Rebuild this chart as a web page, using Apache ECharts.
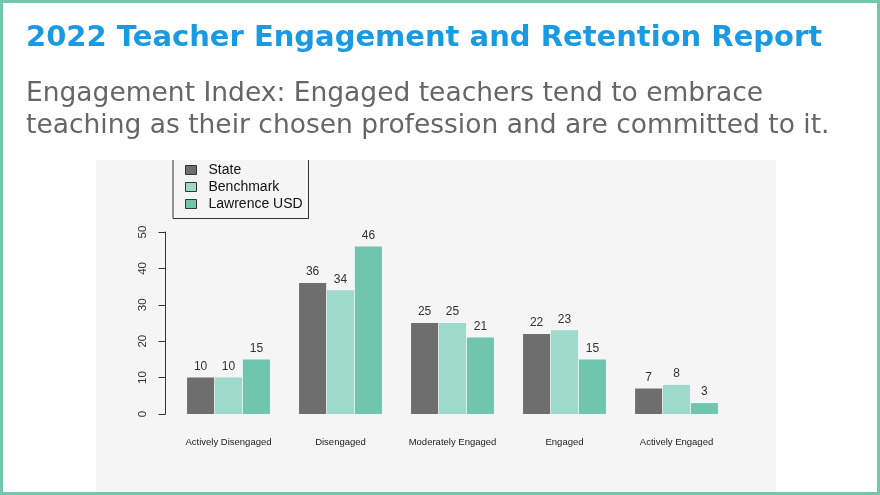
<!DOCTYPE html>
<html>
<head>
<meta charset="utf-8">
<script src="https://cdn.jsdelivr.net/npm/echarts@6/dist/echarts.min.js"></script>
<style>
  html, body { margin: 0; padding: 0; background: #fff; }
  #chart-box { width: 880px; height: 495px; }
</style>
</head>
<body>
<div id="chart-box"></div>
<script>
// engagement levels and percentages per group
var categories = ['Actively Disengaged', 'Disengaged', 'Moderately Engaged', 'Engaged', 'Actively Engaged']
var stateValues = [10, 36, 25, 22, 7]
var benchmarkValues = [10, 34, 25, 23, 8]
var lawrenceValues = [15, 46, 21, 15, 3]
var yTicks = [0, 10, 20, 30, 40, 50]

var colors = ['#6e6e6e', '#9ddac9', '#6fc6ac']

function barSeries(name, data, color) {
  return {
    name: name,
    type: 'bar',
    data: data,
    barGap: '3%',
    barCategoryGap: '26%',
    itemStyle: { color: color },
    label: {
      show: true,
      position: 'top',
      distance: 5,
      color: '#333',
      fontSize: 12,
      fontFamily: 'Liberation Sans'
    }
  }
}

var myChart = echarts.init(document.getElementById('chart-box'))
myChart.setOption({
  animation: false,
  title: [
    {
      text: '2022 Teacher Engagement and Retention Report',
      left: 21,
      top: 19,
      textStyle: { color: '#1a9ae2', fontSize: 29, fontWeight: 'bold', fontFamily: 'DejaVu Sans' }
    },
    {
      text: 'Engagement Index: Engaged teachers tend to embrace\nteaching as their chosen profession and are committed to it.',
      left: 21,
      top: 73,
      textStyle: { color: '#666', fontSize: 26.5, fontWeight: 'normal', fontFamily: 'DejaVu Sans', lineHeight: 32 }
    }
  ],
  graphic: [
    {
      type: 'rect',
      z: -10,
      shape: { x: 1.5, y: 1.5, width: 877, height: 492 },
      style: { fill: '#fff', stroke: '#72c8ad', lineWidth: 3 }
    },
    {
      type: 'rect',
      z: -9,
      shape: { x: 96, y: 160, width: 680, height: 332 },
      style: { fill: '#f5f5f5' }
    },
    {
      type: 'polyline',
      z: 5,
      shape: { points: [[173, 160], [173, 218.5], [308.5, 218.5], [308.5, 160]] },
      style: { stroke: '#333', lineWidth: 1, fill: null }
    }
  ],
  legend: {
    orient: 'vertical',
    left: 180,
    top: 158,
    itemWidth: 11,
    itemHeight: 9,
    itemGap: 3,
    icon: 'rect',
    itemStyle: { borderColor: '#333', borderWidth: 1 },
    textStyle: { color: '#111', fontSize: 14, lineHeight: 14, fontFamily: 'Liberation Sans', padding: [0, 0, 0, 7] },
    data: ['State', 'Benchmark', 'Lawrence USD']
  },
  grid: { left: 172.5, right: 147.5, top: 232, bottom: 81, containLabel: false },
  xAxis: {
    type: 'category',
    data: categories,
    axisLine: { show: false },
    axisTick: { show: false },
    axisLabel: { interval: 0, color: '#222', fontSize: 9.5, fontFamily: 'Liberation Sans', margin: 23 }
  },
  yAxis: {
    type: 'value',
    min: yTicks[0],
    max: yTicks[yTicks.length - 1],
    interval: 10,
    offset: 7,
    axisLine: { show: true, lineStyle: { color: '#333' } },
    axisTick: { show: true, length: 7, lineStyle: { color: '#333' } },
    splitLine: { show: false },
    axisLabel: { color: '#333', fontSize: 11.5, fontFamily: 'Liberation Sans', rotate: 90, margin: 17 }
  },
  series: [
    barSeries('State', stateValues, colors[0]),
    barSeries('Benchmark', benchmarkValues, colors[1]),
    barSeries('Lawrence USD', lawrenceValues, colors[2])
  ]
})
</script>
</body>
</html>
